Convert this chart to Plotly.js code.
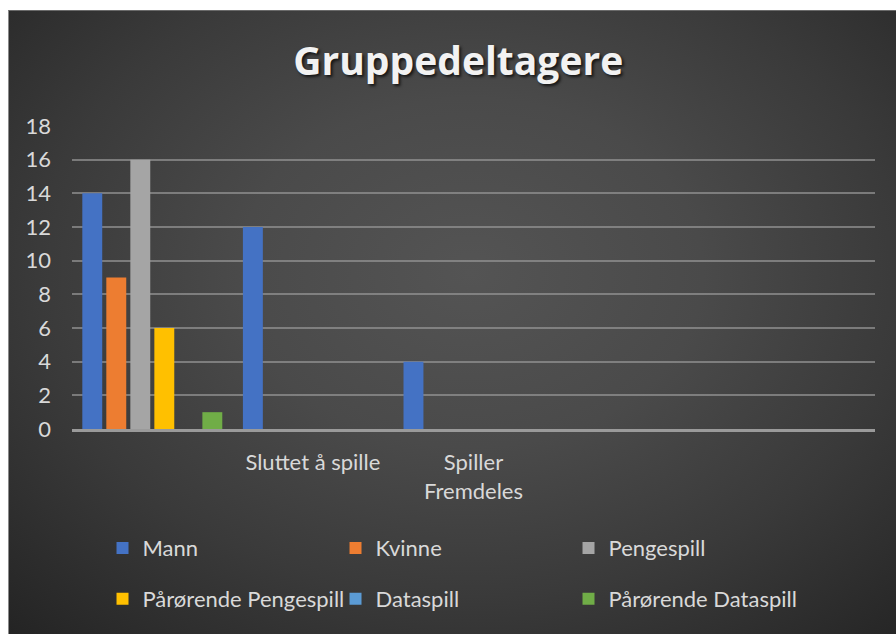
<!DOCTYPE html>
<html>
<head>
<meta charset="utf-8">
<script src="https://cdn.plot.ly/plotly-3.0.1.min.js"></script>
<style>
  html, body { margin: 0; padding: 0; background: #ffffff; width: 896px; height: 634px; overflow: hidden; }
  #frame {
    position: absolute; left: 8px; top: 10px; width: 888px; height: 624px;
    background: radial-gradient(ellipse 75% 80% at 52% 42%, #545454 0%, #4a4a4a 35%, #3a3a3a 65%, #242424 100%);
    border-top: 1px solid #6a6a6a; border-left: 1px solid #8a8a8a; box-sizing: border-box;
  }
  #chart { position: absolute; left: -1px; top: -1px; width: 888px; height: 624px; }
</style>
</head>
<body>
<div id="frame"><div id="chart"></div></div>
<script>
// Data
const categoryLabels = ["", "Sluttet å spille", "Spiller<br>Fremdeles", "", ""];
const seriesNames = ["Mann", "Kvinne", "Pengespill", "Pårørende Pengespill", "Dataspill", "Pårørende Dataspill"];
const mann = [14, 12, 4, 0, 0];
const kvinne = [9, 0, 0, 0, 0];
const pengespill = [16, 0, 0, 0, 0];
const parorendePengespill = [6, 0, 0, 0, 0];
const dataspill = [0, 0, 0, 0, 0];
const parorendeDataspill = [1, 0, 0, 0, 0];
const yTicks = [0, 2, 4, 6, 8, 10, 12, 14, 16, 18];

const seriesValues = [mann, kvinne, pengespill, parorendePengespill, dataspill, parorendeDataspill];
const colors = ["#4472C4", "#ED7D31", "#A5A5A5", "#FFC000", "#5B9BD5", "#70AD47"];
const xIdx = categoryLabels.map((_, i) => i);

const traces = seriesValues.map((vals, s) => ({
  type: "bar",
  name: seriesNames[s],
  x: xIdx,
  y: vals,
  marker: { color: colors[s], line: { width: 0 } },
  legend: s < 3 ? "legend" : "legend2",
  hoverinfo: "skip"
}));

const FONT = "Lato, 'Open Sans', sans-serif";
const legendFont = { family: FONT, size: 22, color: "#d9d9d9" };

const layout = {
  width: 888, height: 624,
  paper_bgcolor: "rgba(0,0,0,0)",
  plot_bgcolor: "rgba(0,0,0,0)",
  margin: { l: 64, r: 21, t: 116, b: 205, autoexpand: false },
  title: {
    text: "Gruppedeltagere",
    x: 0.507, xanchor: "center",
    y: 0.917, yanchor: "middle",
    font: { family: "'Open Sans', Lato, sans-serif", size: 39, weight: 700, color: "#f2f2f2",
            shadow: "2px 2px 3px rgba(0,0,0,0.7)" }
  },
  barmode: "group",
  bargap: 0.103,
  bargroupgap: 0.17,
  xaxis: {
    range: [-0.5, 4.5],
    tickvals: xIdx,
    ticktext: categoryLabels,
    showgrid: false,
    zeroline: false,
    showline: true, linecolor: "#9a9a9a", linewidth: 3,
    ticks: "", ticklabelstandoff: 12,
    tickfont: { family: FONT, size: 22, color: "#d9d9d9" },
    fixedrange: true
  },
  yaxis: {
    range: [0, 18],
    tickvals: yTicks,
    ticktext: yTicks.map(String),
    showgrid: true, gridcolor: "rgba(150,150,150,0.7)", gridwidth: 2,
    zeroline: false, showline: false,
    ticks: "", ticklabelstandoff: 20,
    tickfont: { family: FONT, size: 22, color: "#d9d9d9" },
    fixedrange: true
  },
  legend: {
    orientation: "h", x: 0.038, xanchor: "left", y: -0.393, yanchor: "middle",
    entrywidth: 188, entrywidthmode: "pixels",
    font: legendFont, bgcolor: "rgba(0,0,0,0)", traceorder: "normal"
  },
  legend2: {
    orientation: "h", x: 0.038, xanchor: "left", y: -0.561, yanchor: "middle",
    entrywidth: 188, entrywidthmode: "pixels",
    font: legendFont, bgcolor: "rgba(0,0,0,0)", traceorder: "normal"
  },
  showlegend: true
};

Plotly.newPlot("chart", traces, layout, { displayModeBar: false, staticPlot: true });
</script>
</body>
</html>
